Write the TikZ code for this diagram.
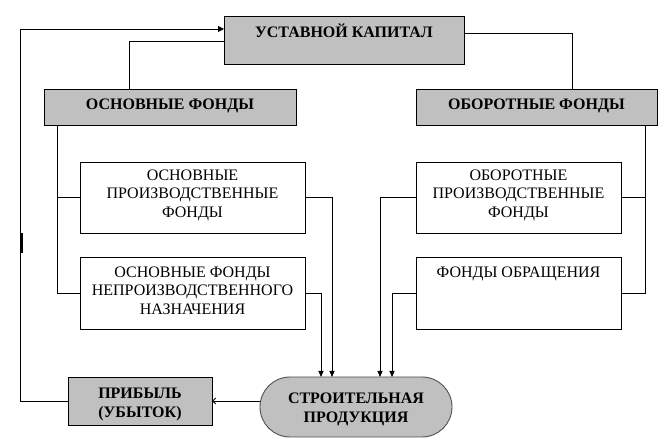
\documentclass[tikz,border=0pt]{standalone}
\usepackage{fontspec}
\setmainfont{Liberation Serif}
\usetikzlibrary{arrows.meta}
\definecolor{boxgray}{HTML}{C0C0C0}
\definecolor{rimgray}{HTML}{505050}
\begin{document}
\begin{tikzpicture}[x=1pt,y=1pt,
  every node/.style={inner sep=0pt, outer sep=0pt, font=\fontsize{16}{18.5}\selectfont, align=center},
  plainbox/.style={draw, line width=0.9pt, fill=white},
  graybox/.style={draw, line width=0.9pt, fill=boxgray, font=\fontsize{16}{18.5}\selectfont\bfseries},
  conn/.style={line width=0.9pt},
  arr/.style={conn, -{Triangle[length=6pt,width=5pt]}},
  openarr/.style={conn, -{Straight Barb[length=3pt,width=6pt]}}]
\useasboundingbox (0,0) rectangle (671,446);
% boxes
\node[graybox, minimum width=240pt, text height=21.3pt, text depth=26.7pt] (UK) at (344,406) {УСТАВНОЙ КАПИТАЛ};
\node[graybox, minimum width=252pt, text height=20.6pt, text depth=15.4pt] (OF) at (170,339) {ОСНОВНЫЕ ФОНДЫ};
\node[graybox, minimum width=241pt, text height=20.6pt, text depth=15.4pt] (ObF) at (536.5,339) {ОБОРОТНЫЕ ФОНДЫ};
\node[plainbox, minimum width=225pt, text height=55.3pt, text depth=15.7pt] (OPF) at (192.5,248.5) {ОСНОВНЫЕ\\ПРОИЗВОДСТВЕННЫЕ\\ФОНДЫ};
\node[plainbox, minimum width=225pt, text height=57.3pt, text depth=14.7pt] (OFNN) at (192.5,153) {ОСНОВНЫЕ ФОНДЫ\\НЕПРОИЗВОДСТВЕННОГО\\НАЗНАЧЕНИЯ};
\node[plainbox, minimum width=205pt, text height=55.3pt, text depth=15.7pt] (ObPF) at (518.5,248.5) {ОБОРОТНЫЕ\\ПРОИЗВОДСТВЕННЫЕ\\ФОНДЫ};
\node[plainbox, minimum width=205pt, text height=20.5pt, text depth=51.5pt] (FO) at (518.5,153) {ФОНДЫ ОБРАЩЕНИЯ};
\node[draw=rimgray, line width=0.9pt, fill=boxgray, rounded corners=30pt, minimum width=192pt, text height=45.3pt, text depth=14.7pt, font=\fontsize{16}{18.5}\selectfont\bfseries] (SP) at (356,39) {СТРОИТЕЛЬНАЯ\\ПРОДУКЦИЯ};
\node[graybox, minimum width=144pt, text height=40.3pt, text depth=7.7pt] (PR) at (140,45) {ПРИБЫЛЬ\\(УБЫТОК)};
% connectors from the charter capital
\draw[conn] ([yshift=-1pt]UK.west) -| ([xshift=-41pt]OF.north);
\draw[conn] ([yshift=7pt]UK.east) -| ([xshift=35.5pt]ObF.north);
% left branch
\coordinate (lb) at ([xshift=-113pt]OF.south);
\draw[conn] (lb) |- (OFNN.west);
\draw[conn] (lb |- OPF.west) -- (OPF.west);
% right branch
\coordinate (rb) at ([xshift=108.5pt]ObF.south);
\draw[conn] (rb) |- (FO.east);
\draw[conn] (rb |- ObPF.east) -- (ObPF.east);
% arrows into the product
\draw[arr] (OPF.east) -| ([xshift=-24pt]SP.north);
\draw[arr] (OFNN.east) -| ([xshift=-35pt]SP.north);
\draw[arr] (ObPF.west) -| ([xshift=24pt]SP.north);
\draw[arr] (FO.west) -| ([xshift=36pt]SP.north);
% product to profit
\draw[openarr] (SP.west |- PR.east) -- (PR.east);
% profit back to capital
\coordinate (lft) at (20.7,0);
\coordinate (ukin) at ([yshift=11pt]UK.west);
\draw[conn, -{Triangle[length=6pt,width=6pt]}] (PR.west) -- (lft |- PR.west) |- (ukin);
\fill (20.2,193) rectangle (23,213);
\end{tikzpicture}
\end{document}
